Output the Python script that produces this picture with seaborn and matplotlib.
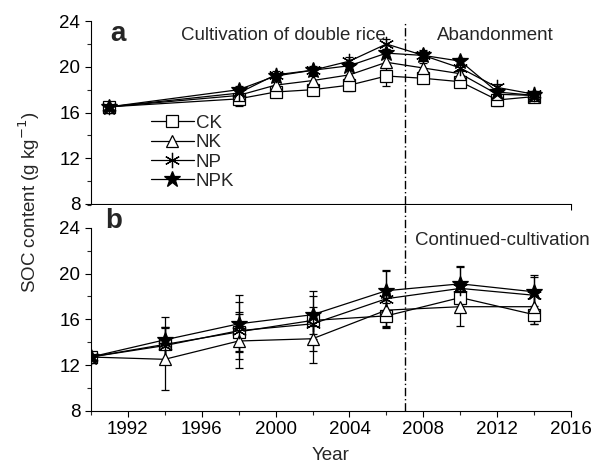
import matplotlib
matplotlib.use("Agg")
import matplotlib.pyplot as plt
import seaborn as sns
import numpy as np
import pandas as pd
from matplotlib.ticker import MultipleLocator

# panel a: double rice then abandonment
years_a = [1991, 1998, 2000, 2002, 2004, 2006, 2008, 2010, 2012, 2014]
ck_a = [16.5, 17.2, 17.8, 18.0, 18.4, 19.2, 19.0, 18.7, 17.1, 17.4]
nk_a = [16.5, 17.5, 18.4, 18.8, 19.3, 20.4, 19.9, 19.4, 17.6, 17.5]
np_a = [16.5, 17.7, 19.3, 19.7, 20.5, 22.0, 21.0, 19.9, 18.2, 17.6]
npk_a = [16.5, 18.0, 19.2, 19.7, 20.1, 21.2, 21.0, 20.5, 17.8, 17.5]
ck_a_err = [0.4, 0.6, 0.3, 0.5, 0.5, 0.9, 0.4, 0.4, 0.5, 0.3]
nk_a_err = [0.4, 0.4, 0.3, 0.4, 0.4, 0.5, 0.4, 0.3, 0.4, 0.3]
np_a_err = [0.4, 0.3, 0.3, 0.4, 0.4, 0.4, 0.5, 0.3, 0.3, 0.3]
npk_a_err = [0.4, 0.3, 0.3, 0.3, 0.3, 0.4, 0.4, 0.3, 0.3, 0.3]

# panel b: continued cultivation
years_b = [1990, 1994, 1998, 2002, 2006, 2010, 2014]
ck_b = [12.7, 13.8, 14.9, 15.9, 16.3, 17.9, 16.4]
nk_b = [12.7, 12.5, 14.1, 14.3, 16.8, 17.1, 17.1]
np_b = [12.7, 13.7, 15.0, 15.6, 17.8, 18.7, 18.1]
npk_b = [12.7, 14.2, 15.6, 16.4, 18.5, 19.1, 18.4]
ck_b_err = [0.3, 1.5, 1.7, 1.2, 1.1, 0.6, 0.8]
nk_b_err = [0.3, 2.7, 2.4, 2.1, 1.5, 1.7, 1.5]
np_b_err = [0.3, 1.6, 2.5, 2.4, 2.4, 1.9, 1.6]
npk_b_err = [0.3, 2.0, 2.5, 2.1, 1.8, 1.6, 1.5]

treatments = ["CK", "NK", "NP", "NPK"]
markers = {"CK": "s", "NK": "^", "NP": (6, 2, 0), "NPK": "*"}
faces = {"CK": "white", "NK": "white", "NP": "none", "NPK": "black"}
msizes = {"CK": 8, "NK": 9, "NP": 11, "NPK": 12}
FS = 13.5

sns.set_style("ticks")
plt.rcParams["font.family"] = ["Liberation Sans", "DejaVu Sans"]
plt.rcParams["font.size"] = FS


def long_frame(years, series, errs):
    rows = []
    for t, vals, ee in zip(treatments, series, errs):
        for y, v, e in zip(years, vals, ee):
            rows.append({"Year": y, "SOC": v, "err": e, "Treatment": t})
    return pd.DataFrame(rows)


df_a = long_frame(years_a, [ck_a, nk_a, np_a, npk_a], [ck_a_err, nk_a_err, np_a_err, npk_a_err])
df_b = long_frame(years_b, [ck_b, nk_b, np_b, npk_b], [ck_b_err, nk_b_err, np_b_err, npk_b_err])

fig = plt.figure(figsize=(6.09, 4.70), dpi=100)
ax_a = fig.add_axes([0.149, 0.566, 0.789, 0.389])
ax_b = fig.add_axes([0.149, 0.126, 0.789, 0.438])


def draw_panel(ax, df, ylim):
    for t in treatments:
        sub = df[df["Treatment"] == t]
        ax.errorbar(sub["Year"], sub["SOC"], yerr=sub["err"], fmt="none",
                    ecolor="black", elinewidth=0.9, capsize=3, capthick=0.9, zorder=2)
        sns.lineplot(data=sub, x="Year", y="SOC", ax=ax, color="black", lw=0.9,
                     marker=markers[t], markersize=msizes[t], markerfacecolor=faces[t],
                     markeredgecolor="black", markeredgewidth=0.9, label=t, zorder=3)
    ax.set_xlim(1990, 2016)
    ax.set_ylim(*ylim)
    ax.set_yticks([8, 12, 16, 20, 24])
    ax.xaxis.set_major_locator(MultipleLocator(4))
    ax.xaxis.set_minor_locator(MultipleLocator(2))
    ax.yaxis.set_minor_locator(MultipleLocator(2))
    ax.tick_params(which="major", direction="out", length=4, width=0.8, labelsize=FS, colors="black")
    ax.tick_params(which="minor", direction="out", length=3, width=0.8)
    ax.axvline(2007, color="black", lw=1, ls=(0, (6, 2, 1, 2)), zorder=1)
    sns.despine(ax=ax)
    for s in ["left", "bottom"]:
        ax.spines[s].set_linewidth(0.8)
        ax.spines[s].set_color("black")
    ax.set_xlabel("")
    ax.set_ylabel("")


draw_panel(ax_a, df_a, (8, 24))
draw_panel(ax_b, df_b, (8, 26))
ax_b.spines["left"].set_bounds(8, 24)

ax_a.set_xticks(range(1992, 2017, 4))
ax_a.tick_params(axis="x", labelbottom=False)
ax_b.set_xticks(range(1992, 2017, 4))

ax_a.legend(loc="upper left", bbox_to_anchor=(0.105, 0.54), frameon=False, fontsize=FS,
            handlelength=2.3, handletextpad=0.1, labelspacing=0.12, borderpad=0)
if ax_b.get_legend() is not None:
    ax_b.get_legend().remove()

ax_a.text(0.04, 1.0, "a", transform=ax_a.transAxes, fontsize=20, fontweight="bold", va="top")
ax_b.text(0.03, 0.985, "b", transform=ax_b.transAxes, fontsize=20, fontweight="bold", va="top")
ax_a.text(2000.4, 22.75, "Cultivation of double rice", ha="center", va="center", fontsize=FS)
ax_a.text(2011.9, 22.75, "Abandonment", ha="center", va="center", fontsize=FS)
ax_b.text(2012.3, 22.85, "Continued-cultivation", ha="center", va="center", fontsize=FS)

ax_b.set_xlabel("Year", fontsize=FS, labelpad=6)
fig.text(0.048, 0.57, "SOC content (g kg$^{-1}$)", rotation=90, ha="center", va="center", fontsize=FS)

fig.savefig("out.png", dpi=100)
